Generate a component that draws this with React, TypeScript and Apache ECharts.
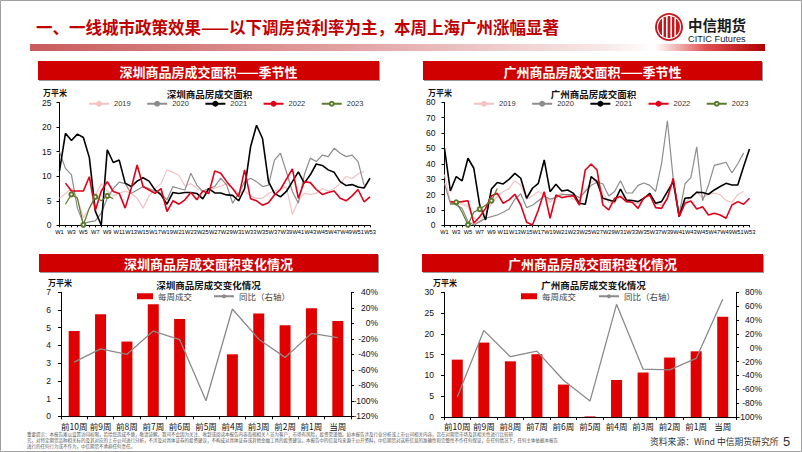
import React, { useEffect, useRef } from "react";
import * as echarts from "echarts";

const FONT = "'Liberation Sans', Arial, 'Noto Sans CJK SC', sans-serif";
const NARROW = "'Liberation Sans Narrow', 'Liberation Sans', Arial, sans-serif";
const CJK = "'Noto Sans CJK SC', 'Liberation Sans', sans-serif";

const pageTitle = "一、一线城市政策效果——以下调房贷利率为主，本周上海广州涨幅显著";
const weeks = Array.from({ length: 53 }, (_, i) => `W${i + 1}`);
const years = ["2019", "2020", "2021", "2022", "2023"];
const periods = ["前10周", "前9周", "前8周", "前7周", "前6周", "前5周", "前4周", "前3周", "前2周", "前1周", "当周"];

// 深圳 weekly (万平米)
const sz2019 = [5.5, 6.5, 7.5, 5.5, 1.5, 3.5, 6.0, 8.5, 7.0, 6.0, 6.5, 7.0, 6.5, 5.5, 3.5, 6.0, 7.5, 8.5, 11.3, 10.8, 10.2, 8.0, 8.5, 7.5, 7.0, 7.5, 7.5, 8.0, 8.5, 7.5, 6.5, 7.0, 6.0, 5.5, 5.5, 6.5, 7.0, 7.5, 7.8, 2.2, 5.0, 6.5, 6.3, 6.5, 7.5, 7.0, 7.5, 8.5, 10.0, 9.5, 10.5, 11.0, null];
const sz2020 = [15.0, 11.6, 10.3, 3.5, 0.4, 0.7, 0.9, 2.5, 5.5, 7.5, 8.8, 8.5, 6.5, 7.2, 7.9, 7.5, 6.9, 6.5, 5.2, 7.9, 7.5, 7.2, 10.6, 8.2, 6.9, 7.5, 7.9, 9.6, 8.2, 4.5, 6.5, 8.9, 9.6, 8.9, 7.9, 8.2, 13.3, 14.7, 10.9, 6.9, 4.5, 10.3, 13.7, 13.0, 14.3, 14.0, 15.7, 14.7, 14.0, 14.3, 13.0, 8.2, null];
const sz2021 = [11.1, 18.75, 17.3, 18.6, 17.9, 13.8, 2.9, 0, 15.4, 12.8, 13.3, 8.6, 7.9, 9.0, 9.7, 9.0, 7.2, 6.2, 4.3, 6.7, 6.5, 6.7, 6.7, 6.5, 5.4, 7.5, 6.6, 6.6, 6.2, 6.1, 5.0, 7.5, 16.0, 20.4, 17.7, 8.9, 6.5, 5.8, 6.9, 8.9, 10.9, 8.6, 10.3, 12.5, 12.2, 11.3, 10.8, 8.9, 8.1, 8.3, 7.8, 7.6, 9.6];
const sz2022 = [null, 8.6, 7.0, 7.0, 7.0, 9.9, 3.0, 7.0, 8.9, 6.9, 6.5, 3.5, 7.5, 12.3, 7.9, 7.2, 6.5, 7.5, 2.8, 5.0, 4.3, 5.2, 6.7, 5.2, 7.0, 6.5, 11.1, 10.6, 8.9, 7.5, 5.8, 11.3, 5.4, 5.0, 4.1, 4.6, 6.2, 7.3, 9.4, 11.5, 5.5, 8.9, 8.7, 7.3, 6.3, 6.7, 7.0, 5.5, 5.0, 6.0, 7.3, 4.8, 5.8];
const sz2023 = [null, 4.3, 6.3, 5.5, 0.1, 3.5, 5.8, 5.0, 6.0, 5.4];

// 广州 weekly (万平米)
const gz2019 = [33, 15, 14, 14, 12, 5, 2, 8, 14, 19, 22, 24, 29, 26, 17, 19, 22, 20, 15, 19, 21, 19, 17, 16, 23, 28, 30, 21, 15, 14, 20, 16, 15, 14, 17, 20, 14, 13, 17, 29, 8, 15, 18, 22, 18, 20, 21, 20, 16, 15, 20, 22, null];
const gz2020 = [27.3, 14.3, 13.2, 11, 2.4, 0.2, 2.4, 4.6, 5.6, 6.7, 8.5, 10.6, 17, 20.5, 11.5, 13, 16, 19, 17, 18, 20, 20, 20, 18, 22, 26, 28, 27, 19, 22, 29, 21, 21, 26, 27.5, 26, 22, 40, 68, 30, 7, 27, 31, 51, 16, 26, 39, 40, 41, 34, 40, 47, null];
const gz2021 = [50.1, 22.3, 31.7, 28.9, 43.6, 37.1, 13.2, 3.5, 23.6, 27.8, 26.9, 29.9, 33.8, 30.6, 17.6, 24.1, 27.3, 42.5, 21.9, 26.7, 22.3, 23.0, 20.8, 14.3, 13.7, 31.7, 28.4, 17.6, 16.5, 15.4, 23.6, 16.5, 16.1, 15.4, 17.6, 20.8, 14.3, 15.4, 21.9, 28.4, 5.6, 17.6, 18.0, 21.5, 21.3, 20.2, 23.0, 25.2, 27.3, 26.2, 26.2, 38.2, 49.7];
const gz2022 = [null, 15.4, 15, 15.4, 16, 1.3, 5.6, 11, 19.1, 20.8, 14.3, 16.5, 20.2, 13.2, 2, 0.2, 10, 21.9, 4.6, 19.7, 18, 18.7, 19.3, 13.2, 36, 39.9, 36, 13.2, 10, 17.6, 18.7, 15.4, 15, 11, 18, 19.7, 11.5, 11, 17.6, 30.6, 5.6, 14.3, 15.8, 10.6, 12.1, 6.7, 7.8, 6.7, 4.6, 13.2, 15.4, 13.7, 17.6];
const gz2023 = [null, 13.5, 15, 8.5, 0.3, 8.5, 10.5, 13, 16, 24];

// weekly change
const szWeekly = [4.82, 5.76, 4.22, 6.32, 5.49, 0, 3.5, 5.81, 5.14, 6.1, 5.38];
const szYoY = [-50, -33, -40, -10, -21, -100, 18.5, -20.5, -44, -13, -18.5];
const gzWeekly = [13.8, 17.9, 13.4, 15.1, 7.8, 0.15, 8.9, 10.7, 14.3, 15.8, 24.1];
const gzYoY = [-71, 25, -13, -5, -47, -77, 62.6, -31, -32, -15.5, 70];

const lineColors: Record<string, string> = {
  "2019": "#f3c3c3",
  "2020": "#8c8c8c",
  "2021": "#000000",
  "2022": "#e0001a",
  "2023": "#5c7a2b",
};
const lineWidths: Record<string, number> = { "2019": 1.2, "2020": 1.2, "2021": 1.6, "2022": 1.6, "2023": 1.2 };

function seasonSeries(data: Record<string, (number | null)[]>, idx: number) {
  return years.map((y) => ({
    name: y,
    type: "line",
    xAxisIndex: idx,
    yAxisIndex: idx,
    data: data[y],
    symbol: y === "2023" ? "emptyCircle" : "none",
    showSymbol: y === "2023",
    symbolSize: 4,
    connectNulls: false,
    lineStyle: { color: lineColors[y], width: lineWidths[y] },
    itemStyle: { color: lineColors[y], borderColor: lineColors[y], borderWidth: 1 },
  }));
}

const axisLineBlack = { show: true, lineStyle: { color: "#000", width: 1 } };

function weekXAxis(grid: number) {
  return {
    gridIndex: grid,
    type: "category",
    data: weeks,
    boundaryGap: false,
    axisLine: axisLineBlack,
    axisTick: { show: true, interval: 0, length: 2, lineStyle: { color: "#000" } },
    axisLabel: {
      interval: 1,
      showMinLabel: true,
      showMaxLabel: true,
      hideOverlap: false,
      fontSize: 5.7,
      color: "#000",
      margin: 4,
      fontFamily: NARROW,
    },
    splitLine: { show: false },
  };
}
function valueAxis(grid: number, min: number, max: number, interval: number, opts: any = {}) {
  return {
    gridIndex: grid,
    type: "value",
    min,
    max,
    interval,
    position: opts.position || "left",
    axisLine: axisLineBlack,
    axisTick: { show: true, length: 3, lineStyle: { color: "#000" } },
    splitLine: { show: false },
    axisLabel: {
      fontSize: 8.5,
      color: "#111",
      margin: opts.margin ?? 9,
      align: opts.align,
      fontFamily: FONT,
      formatter: opts.pct ? "{value}%" : "{value}",
    },
  };
}
function periodXAxis(grid: number) {
  return {
    gridIndex: grid,
    type: "category",
    data: periods,
    boundaryGap: true,
    axisLine: axisLineBlack,
    axisTick: { show: true, length: 3, lineStyle: { color: "#000" } },
    axisLabel: { interval: 0, fontSize: 8.5, color: "#111", margin: 5, fontFamily: CJK },
  };
}
function barSeries(weekly: number[], yoy: number[], xi: number, yl: number, yr: number) {
  return [
    {
      name: "每周成交",
      type: "bar",
      xAxisIndex: xi,
      yAxisIndex: yl,
      data: weekly,
      barWidth: 11,
      itemStyle: { color: "#e00000" },
    },
    {
      name: "同比（右轴）",
      type: "line",
      xAxisIndex: xi,
      yAxisIndex: yr,
      data: yoy,
      symbol: "none",
      lineStyle: { color: "#8a8a8a", width: 1.3 },
      itemStyle: { color: "#8a8a8a" },
    },
  ];
}

function txt(x: number, y: number, text: string, fontSize: number, fill: string, extra: any = {}) {
  return {
    type: "text",
    x,
    y,
    z: 100,
    silent: true,
    style: {
      text,
      fontSize,
      fill,
      fontFamily: extra.fontFamily || CJK,
      fontWeight: extra.fontWeight || "normal",
      align: extra.align || "left",
      verticalAlign: "middle",
    },
  };
}
function header(x: number, y: number, w: number, h: number, text: string) {
  return [
    { type: "rect", shape: { x: x + 1, y: y + 1, width: w, height: h }, style: { fill: "#9a9a9a" }, z: 1, silent: true },
    { type: "rect", shape: { x, y, width: w, height: h }, style: { fill: "#d10000" }, z: 2, silent: true },
    txt(x + w / 2, y + h / 2 + 0.5, text, 13, "#ffffff", { fontWeight: "bold", align: "center" }),
  ];
}

const disclaimer1 = "重要提示：本报告难以设置访问权限，若给您造成不便，敬请谅解。我司不会因为关注、收到或阅读本报告内容而视相关人员为客户；市场有风险，投资需谨慎。如本报告涉及行业分析或上市公司相关内容，旨在对期货市场及其相关性进行比较研";
const disclaimer2 = "究，对特定期货品种相关标的及其对应的上市公司进行分析，不涉及对具体证券的投资建议，不构成对具体证券或其他金融工具的投资建议。本报告中的信息均来源于公开资料，中信期货对这些信息的准确性和完整性不作任何保证，在任何情况下，任何主体依据本报告";
const disclaimer3 = "进行的任何行为或不作为，中信期货不承担任何责任。";

function buildOption() {
  const graphics: any[] = [
    { type: "rect", shape: { x: 0.5, y: 0.5, width: 801, height: 451 }, style: { fill: "none", stroke: "#a0a0a0", lineWidth: 1 }, silent: true },
    txt(36, 27, pageTitle, 16.5, "#c00000", { fontWeight: "bold" }),
    {
      type: "rect",
      shape: { x: 30, y: 44, width: 735, height: 7 },
      silent: true,
      style: {
        fill: new echarts.graphic.LinearGradient(0, 0, 1, 0, [
          { offset: 0, color: "#c95c5c" },
          { offset: 0.45, color: "#e3a5a5" },
          { offset: 0.78, color: "#f8e8e8" },
          { offset: 0.85, color: "#ffffff" },
          { offset: 0.92, color: "#e05050" },
          { offset: 1, color: "#b00000" },
        ]),
      },
    },
    // logo
    { type: "circle", shape: { cx: 669, cy: 27, r: 14 }, style: { fill: "#c8161d" }, silent: true },
    { type: "circle", shape: { cx: 669, cy: 27, r: 11.5 }, style: { fill: "none", stroke: "#ffffff", lineWidth: 1.2 }, silent: true },
    { type: "rect", shape: { x: 662, y: 18, width: 1.6, height: 18 }, style: { fill: "#ffffff" }, silent: true },
    { type: "rect", shape: { x: 666, y: 16, width: 1.6, height: 22 }, style: { fill: "#ffffff" }, silent: true },
    { type: "rect", shape: { x: 670.4, y: 16, width: 1.6, height: 22 }, style: { fill: "#ffffff" }, silent: true },
    { type: "rect", shape: { x: 674.4, y: 18, width: 1.6, height: 18 }, style: { fill: "#ffffff" }, silent: true },
    txt(688, 24, "中信期货", 14.5, "#1a1a1a", { fontWeight: "bold" }),
    txt(688, 38.5, "CITIC Futures", 9.2, "#1a1a1a", { fontFamily: FONT }),
    ...header(38, 61, 341, 19, "深圳商品房成交面积——季节性"),
    ...header(423, 61, 339, 19, "广州商品房成交面积——季节性"),
    ...header(39, 254, 339, 18, "深圳商品房成交面积变化情况"),
    ...header(422, 254, 341, 18, "广州商品房成交面积变化情况"),
    txt(43, 92, "万平米", 8, "#111", { fontWeight: "bold" }),
    txt(209.5, 93.5, "深圳商品房成交面积", 9.5, "#111", { fontWeight: "bold", align: "center" }),
    txt(428, 92, "万平米", 8, "#111", { fontWeight: "bold" }),
    txt(593.5, 93.5, "广州商品房成交面积", 9.5, "#111", { fontWeight: "bold", align: "center" }),
    txt(48, 282.5, "万平米", 8, "#111", { fontWeight: "bold" }),
    txt(208.5, 284.5, "深圳商品房成交变化情况", 9.5, "#111", { fontWeight: "bold", align: "center" }),
    txt(433, 282.5, "万平米", 8, "#111", { fontWeight: "bold" }),
    txt(593.5, 284.5, "广州商品房成交变化情况", 9.5, "#111", { fontWeight: "bold", align: "center" }),
    txt(27, 434, disclaimer1, 4.5, "#555"),
    txt(27, 440, disclaimer2, 4.5, "#555"),
    txt(27, 446, disclaimer3, 4.5, "#555"),
    txt(650, 441.5, "资料来源：Wind 中信期货研究所", 8.8, "#333"),
    txt(783, 441, "5", 13, "#333", { fontFamily: FONT }),
  ];

  const legendBase = {
    padding: 0,
    itemWidth: 20,
    itemHeight: 5,
    textStyle: { fontSize: 7.5, color: "#333", fontFamily: FONT },
  };
  const barLegendText = { fontSize: 8.5, color: "#444", fontFamily: CJK };

  return {
    animation: false,
    backgroundColor: "#ffffff",
    textStyle: { fontFamily: FONT },
    grid: [
      { left: 59.5, top: 102.7, width: 310.5, height: 122.6 },
      { left: 444.5, top: 102.3, width: 305, height: 123 },
      { left: 61, top: 292.3, width: 290, height: 124 },
      { left: 444, top: 292.3, width: 292, height: 124.7 },
    ],
    legend: [
      { ...legendBase, left: 88, top: 100, itemGap: 15.5, data: years },
      { ...legendBase, left: 473, top: 100, itemGap: 15.5, data: years },
      { ...legendBase, left: 137, top: 292, icon: "rect", itemWidth: 16, itemHeight: 6, data: ["每周成交"], textStyle: barLegendText },
      { ...legendBase, left: 213, top: 292, data: ["同比（右轴）"], textStyle: barLegendText },
      { ...legendBase, left: 521, top: 292, icon: "rect", itemWidth: 16, itemHeight: 6, data: ["每周成交"], textStyle: barLegendText },
      { ...legendBase, left: 598, top: 292, data: ["同比（右轴）"], textStyle: barLegendText },
    ],
    xAxis: [weekXAxis(0), weekXAxis(1), periodXAxis(2), periodXAxis(3)],
    yAxis: [
      valueAxis(0, 0, 25, 5, { margin: 8 }),
      valueAxis(1, 0, 80, 10, { margin: 9 }),
      valueAxis(2, 0, 7, 1, { margin: 10 }),
      valueAxis(2, -120, 40, 20, { position: "right", pct: true, align: "right", margin: 27 }),
      valueAxis(3, 0, 30, 5, { margin: 10 }),
      valueAxis(3, -100, 80, 20, { position: "right", pct: true, align: "right", margin: 26 }),
    ],
    series: [
      ...seasonSeries({ "2019": sz2019, "2020": sz2020, "2021": sz2021, "2022": sz2022, "2023": sz2023 }, 0),
      ...seasonSeries({ "2019": gz2019, "2020": gz2020, "2021": gz2021, "2022": gz2022, "2023": gz2023 }, 1),
      ...barSeries(szWeekly, szYoY, 2, 2, 3),
      ...barSeries(gzWeekly, gzYoY, 3, 4, 5),
    ],
    graphic: { elements: graphics },
  };
}

export default function App() {
  const ref = useRef<HTMLDivElement>(null);
  useEffect(() => {
    if (!ref.current) return;
    const chart = echarts.init(ref.current, null, { renderer: "svg" });
    chart.setOption(buildOption() as any);
    return () => chart.dispose();
  }, []);
  return (
    <div
      ref={ref}
      style={{ position: "absolute", left: 0, top: 0, width: 802, height: 452, background: "#ffffff" }}
    />
  );
}
